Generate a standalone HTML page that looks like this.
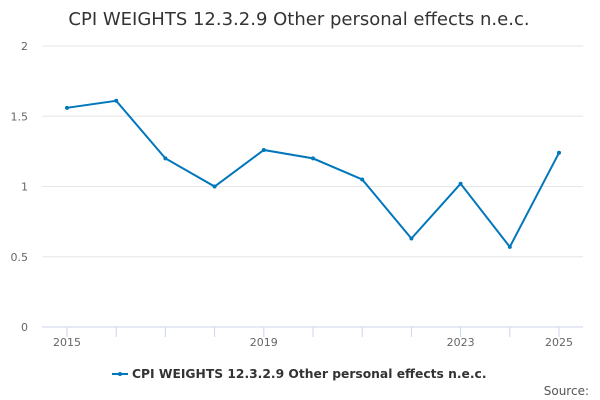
<!DOCTYPE html>
<html><head><meta charset="utf-8"><style>
body{margin:0;background:#fff;}
svg{display:block;font-family:"DejaVu Sans","Liberation Sans",sans-serif;}
</style></head><body>
<svg id="chart" width="600" height="400">
<text x="299" y="25" text-anchor="middle" font-size="18" fill="#333">CPI WEIGHTS 12.3.2.9 Other personal effects n.e.c.</text>
<g id="grid"></g><g id="axes"></g><g id="series"></g>
<g>
<line x1="112" y1="374" x2="128" y2="374" stroke="#0077bb" stroke-width="2"/>
<circle cx="120" cy="374" r="2" fill="#0077bb"/>
<text x="132" y="378" font-size="12.3" font-weight="bold" fill="#333">CPI WEIGHTS 12.3.2.9 Other personal effects n.e.c.</text>
</g>
<text x="589" y="395" text-anchor="end" font-size="12" fill="#555">Source:</text>
</svg>
<script>
const years=[2015,2016,2017,2018,2019,2020,2021,2022,2023,2024,2025];
const values=[1.56,1.61,1.2,1.0,1.26,1.2,1.05,0.63,1.02,0.57,1.24];
const yTicks=[0,0.5,1,1.5,2];
const xLabels=[2015,2019,2023,2025];
const ns="http://www.w3.org/2000/svg";
const x=v=>67+(v-2015)*49.2, y=v=>327-v*140.5;
function mk(t,a,p){const e=document.createElementNS(ns,t);for(const k in a)e.setAttribute(k,a[k]);p.appendChild(e);return e;}
const g=document.getElementById('grid'),ax=document.getElementById('axes'),s=document.getElementById('series');
yTicks.forEach(t=>{
 const l=mk('line',{x1:42,x2:583,y1:y(t),y2:y(t),stroke:t==0?'#ccd6eb':'#e6e6e6'},g);
 
 
 const tx=mk('text',{x:28,y:y(t)+4,'text-anchor':'end','font-size':11,fill:'#666'},ax);tx.textContent=t;
 
 
});
years.forEach(yr=>{
 const l=mk('line',{x1:x(yr),x2:x(yr),y1:327,y2:337,stroke:'#ccd6eb'},ax);
 
 
});
xLabels.forEach(yr=>{
 const tx=mk('text',{x:x(yr),y:346,'text-anchor':'middle','font-size':11,fill:'#666'},ax);tx.textContent=yr;
 
 
});
const p=mk('polyline',{points:years.map((yr,i)=>x(yr)+','+y(values[i])).join(' '),fill:'none',stroke:'#0077bb','stroke-width':2},s);


years.forEach((yr,i)=>{
 const c=mk('circle',{cx:x(yr),cy:y(values[i]),r:2,fill:'#0077bb'},s);
 
 
});
</script>
</body></html>
